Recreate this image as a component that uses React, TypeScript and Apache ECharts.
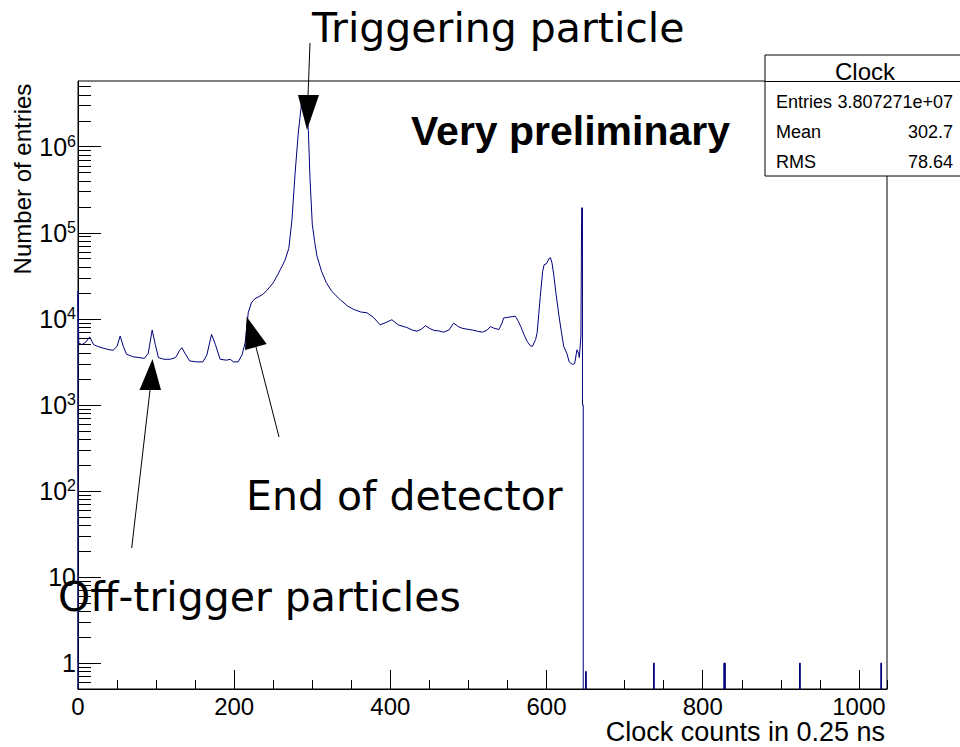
import React, { useEffect, useRef } from 'react';
import * as echarts from 'echarts';

// Histogram outline: bin (clock count) and number of entries
const clockCounts = [
  0, 0, 1, 5, 10, 15, 20, 25, 32, 40, 45, 50, 54, 58, 62, 70, 78, 85, 90, 95, 99,
  103, 110, 118, 125, 130, 133, 137, 143, 152, 160, 165, 171, 176, 182, 190, 195,
  199, 205, 210, 214, 218, 222, 226, 232, 236, 242, 250, 255, 259, 265, 270, 274,
  278, 282, 286, 288, 290, 292, 295, 297, 300, 303, 306, 312, 318, 325, 336, 345,
  353, 362, 370, 378, 387, 395, 402, 410, 421, 428, 434, 440, 445, 450, 456, 462,
  468, 475, 481, 487, 492, 498, 505, 512, 518, 524, 528, 533, 539, 543, 545, 552,
  560, 564, 567, 571, 575, 579, 582, 586, 588, 590, 592, 595, 597, 600, 603, 605,
  607, 609, 612, 616, 619, 622, 626, 629, 633, 636, 639, 641, 642, 644, 645, 646,
  646, 647, 647,
];
const entries = [
  0.5, 20900, 5250, 5010, 5370, 6170, 5010, 4790, 4570, 4370, 4320, 4790, 6310,
  4790, 3890, 3630, 3550, 3470, 3980, 7410, 5010, 3550, 3390, 3390, 3550, 4270,
  4620, 3980, 3240, 3160, 3160, 3800, 6610, 5010, 3390, 3310, 3390, 3160, 3160,
  3800, 5250, 11750, 15310, 16980, 18200, 19050, 21380, 26300, 31620, 37150, 47860,
  66070, 141250, 489800, 1412500, 3020000, 3548000, 3630000, 2818000, 1549000,
  446700, 125900, 79430, 53700, 35480, 26300, 20890, 16600, 14130, 12880, 12020,
  11750, 10470, 8510, 9120, 9770, 8510, 7940, 7410, 7190, 7590, 8320, 7760, 7330,
  7240, 7000, 7410, 8910, 8130, 7760, 7590, 7410, 7160, 7000, 7410, 8130, 7760,
  7520, 8910, 10230, 10470, 10720, 9330, 8130, 6610, 5500, 4900, 4790, 5750, 6920,
  11220, 18200, 35480, 42660, 43650, 50120, 51290, 44670, 33880, 19950, 10720,
  7080, 4790, 3980, 3160, 2950, 3020, 4370, 3980, 3550, 6310, 195000, 195000,
  1000, 1000, 0.5,
];

// isolated single-count bins after the main distribution
const spikeBins = [650, 737, 827, 828, 924, 1028];
const spikeEntries = [0.8, 1, 1, 1, 1, 1];

const Y_MIN = 0.5;
const Y_MAX = 5.8e6;
const X_MAX = 1036;

const yDecades = [1, 10, 100, 1000, 10000, 100000, 1000000];
const yMultipliers = [2, 3, 4, 5, 6, 7, 8, 9];

const statsTitle = 'Clock';
const statsNames = ['Entries', 'Mean', 'RMS'];
const statsValues = ['3.807271e+07', '302.7', '78.64'];

const ROOT_FONT = '"Liberation Sans", Arial, sans-serif';
const NOTE_FONT = '"DejaVu Sans", sans-serif';
const LINE_COLOR = '#00007a';

export default function App() {
  const ref = useRef<HTMLDivElement>(null);

  useEffect(() => {
    if (!ref.current) return;
    const chart = echarts.init(ref.current, undefined, { renderer: 'svg' });

    const mainData = clockCounts.map((x, i) => [x, entries[i]]);

    const minorTicks: number[] = [];
    [0.1, ...yDecades].forEach((d) => {
      yMultipliers.forEach((m) => {
        const v = d * m;
        if (v > Y_MIN && v < Y_MAX) minorTicks.push(v);
      });
    });

    const spikeSeries = spikeBins.map((b, i) => ({
      type: 'line',
      data: [
        [b, Y_MIN],
        [b, spikeEntries[i]],
        [b + 1, spikeEntries[i]],
        [b + 1, Y_MIN],
      ],
      showSymbol: false,
      silent: true,
      lineStyle: { color: LINE_COLOR, width: 1 },
      xAxisIndex: 0,
      yAxisIndex: 0,
    }));

    const statsTop = 55;
    const statsLeft = 765;
    const rowY = [101.7, 131.7, 161.7];

    const arrow = (x1: number, y1: number, x2: number, y2: number, head: number[][]) => [
      {
        type: 'line',
        z: 100,
        shape: { x1, y1, x2, y2 },
        style: { stroke: '#000', lineWidth: 1 },
      },
      {
        type: 'polygon',
        z: 100,
        shape: { points: head },
        style: { fill: '#000' },
      },
    ];

    const option: any = {
      animation: false,
      grid: {
        left: 78,
        right: 73,
        top: 81,
        bottom: 58,
        show: true,
        borderColor: '#000',
        borderWidth: 1,
        backgroundColor: 'transparent',
      },
      xAxis: [
        {
          type: 'value',
          min: 0,
          max: X_MAX,
          interval: 200,
          position: 'bottom',
          axisLine: { show: true, lineStyle: { color: '#000', width: 1 } },
          axisTick: { show: true, inside: true, length: 19, lineStyle: { color: '#000', width: 1 } },
          axisLabel: {
            showMaxLabel: false,
            margin: 5,
            fontSize: 24,
            fontFamily: ROOT_FONT,
            color: '#000',
            formatter: (v: number) => String(Math.round(v)),
          },
          splitLine: { show: false },
        },
        {
          type: 'value',
          min: 0,
          max: X_MAX,
          interval: 50,
          position: 'bottom',
          axisLine: { show: false },
          axisTick: { show: true, inside: true, length: 9, lineStyle: { color: '#000', width: 1 } },
          axisLabel: { show: false },
          splitLine: { show: false },
        },
      ],
      yAxis: [
        {
          type: 'log',
          logBase: 10,
          min: Y_MIN,
          max: Y_MAX,
          position: 'left',
          axisLine: { show: true, lineStyle: { color: '#000', width: 1 } },
          axisTick: {
            show: true,
            inside: true,
            length: 23,
            customValues: yDecades,
            lineStyle: { color: '#000', width: 1 },
          },
          axisLabel: {
            customValues: yDecades,
            margin: 2,
            formatter: (v: number) => {
              const e = Math.round(Math.log10(v));
              if (e === 0) return '{b|1}';
              if (e === 1) return '{b|10}';
              return '{b|10}{s|' + e + '}';
            },
            rich: {
              b: { fontSize: 25, fontFamily: ROOT_FONT, color: '#000', lineHeight: 27 },
              s: { fontSize: 16, fontFamily: ROOT_FONT, color: '#000', lineHeight: 16, verticalAlign: 'top' },
            },
          },
          splitLine: { show: false },
        },
        {
          type: 'log',
          logBase: 10,
          min: Y_MIN,
          max: Y_MAX,
          position: 'left',
          axisLine: { show: false },
          axisTick: {
            show: true,
            inside: true,
            length: 13,
            customValues: minorTicks,
            lineStyle: { color: '#000', width: 1 },
          },
          axisLabel: { show: false },
          splitLine: { show: false },
        },
      ],
      series: [
        {
          type: 'line',
          data: mainData,
          showSymbol: false,
          silent: true,
          lineStyle: { color: LINE_COLOR, width: 1 },
          xAxisIndex: 0,
          yAxisIndex: 0,
        },
        ...spikeSeries,
      ],
      graphic: [
        // axis titles
        {
          type: 'text',
          z: 100,
          x: 22,
          y: 179,
          rotation: Math.PI / 2,
          style: {
            text: 'Number of entries',
            fontSize: 24,
            fontFamily: ROOT_FONT,
            fill: '#000',
            align: 'center',
            verticalAlign: 'middle',
          },
        },
        {
          type: 'text',
          z: 100,
          x: 885,
          y: 732,
          style: {
            text: 'Clock counts in 0.25 ns',
            fontSize: 27,
            fontFamily: ROOT_FONT,
            fill: '#000',
            align: 'right',
            verticalAlign: 'middle',
          },
        },
        // stats box
        {
          type: 'rect',
          z: 100,
          shape: { x: statsLeft, y: statsTop, width: 205, height: 121 },
          style: { fill: '#fff', stroke: '#000', lineWidth: 1 },
        },
        {
          type: 'line',
          z: 101,
          shape: { x1: statsLeft, y1: 81.5, x2: 970, y2: 81.5 },
          style: { stroke: '#000', lineWidth: 1 },
        },
        {
          type: 'text',
          z: 101,
          x: 865,
          y: 71.5,
          style: {
            text: statsTitle,
            fontSize: 24,
            fontFamily: ROOT_FONT,
            fill: '#000',
            align: 'center',
            verticalAlign: 'middle',
          },
        },
        ...statsNames.map((n, i) => ({
          type: 'text',
          z: 101,
          x: 776,
          y: rowY[i],
          style: {
            text: n,
            fontSize: 18,
            fontFamily: ROOT_FONT,
            fill: '#000',
            align: 'left',
            verticalAlign: 'middle',
          },
        })),
        ...statsValues.map((v, i) => ({
          type: 'text',
          z: 101,
          x: 953,
          y: rowY[i],
          style: {
            text: v,
            fontSize: 18,
            fontFamily: ROOT_FONT,
            fill: '#000',
            align: 'right',
            verticalAlign: 'middle',
          },
        })),
        // annotations
        {
          type: 'text',
          z: 100,
          x: 411,
          y: 131,
          style: {
            text: 'Very preliminary',
            fontSize: 41,
            fontWeight: 'bold',
            fontFamily: ROOT_FONT,
            fill: '#000',
            align: 'left',
            verticalAlign: 'middle',
          },
        },
        {
          type: 'text',
          z: 100,
          x: 312,
          y: 28,
          style: {
            text: 'Triggering particle',
            fontSize: 41,
            fontFamily: NOTE_FONT,
            fill: '#000',
            align: 'left',
            verticalAlign: 'middle',
          },
        },
        {
          type: 'text',
          z: 100,
          x: 246,
          y: 496,
          style: {
            text: 'End of detector',
            fontSize: 41,
            fontFamily: NOTE_FONT,
            fill: '#000',
            align: 'left',
            verticalAlign: 'middle',
          },
        },
        {
          type: 'text',
          z: 100,
          x: 58,
          y: 597,
          style: {
            text: 'Off-trigger particles',
            fontSize: 41,
            fontFamily: NOTE_FONT,
            fill: '#000',
            align: 'left',
            verticalAlign: 'middle',
          },
        },
        ...arrow(310, 43, 308, 96, [[298, 95], [319, 95], [307, 130]]),
        ...arrow(279, 437, 256, 347, [[246.7, 316.7], [245, 350], [266.7, 344]]),
        ...arrow(131.7, 548, 150, 390, [[152.5, 359], [139.5, 390], [161, 390]]),
      ],
    };

    chart.setOption(option);
    return () => chart.dispose();
  }, []);

  return <div ref={ref} style={{ width: 960, height: 747, position: 'absolute', left: 0, top: 0 }} />;
}
